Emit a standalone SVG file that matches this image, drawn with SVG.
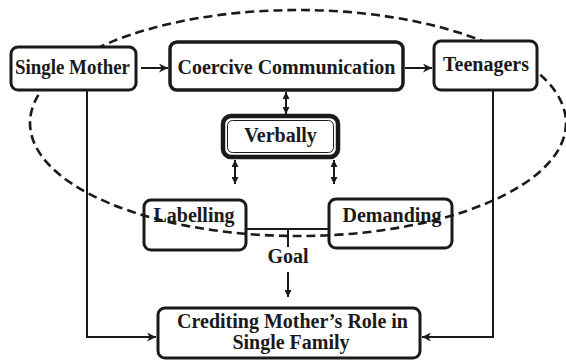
<svg xmlns="http://www.w3.org/2000/svg" width="566" height="360" viewBox="0 0 566 360">
<style>
.box{fill:#fff;stroke:#1a1a1a;stroke-width:3}
.t{font-family:"Liberation Serif","Times New Roman",serif;font-weight:bold;font-size:20px;fill:#1a1a1a;text-anchor:middle}
.ln{fill:none;stroke:#1a1a1a;stroke-width:2}
.el{fill:none;stroke:#1a1a1a;stroke-width:2.6;stroke-dasharray:9 5}
</style>
<defs>
<marker id="ah" viewBox="0 0 10 10" refX="10" refY="5" markerWidth="9" markerHeight="9" markerUnits="userSpaceOnUse" orient="auto-start-reverse">
<path d="M0,0 L10,5 L0,10 L3,5 z" fill="#1a1a1a"/>
</marker>
<marker id="ahs" viewBox="0 0 10 10" refX="10" refY="5" markerWidth="7" markerHeight="7" markerUnits="userSpaceOnUse" orient="auto-start-reverse">
<path d="M0,0 L10,5 L0,10 z" fill="#1a1a1a"/>
</marker>
</defs>
<g id="labelling"><rect class="box" x="144" y="200" width="102" height="50" rx="7"/><text class="t" x="194" y="222">Labelling</text></g>
<g id="demanding"><rect class="box" x="329" y="199" width="123" height="49" rx="7"/><text class="t" x="392" y="222">Demanding</text></g>
<g id="connectors">
<path class="ln" d="M247,229 H328"/>
<path class="ln" d="M288,229 V247"/>
<path class="ln" d="M288,272 V297" marker-end="url(#ahs)"/>
<path class="ln" d="M141,68 H168" marker-end="url(#ah)"/>
<path class="ln" d="M405,68 H432" marker-end="url(#ah)"/>
<path class="ln" d="M286,92 V114" marker-start="url(#ahs)" marker-end="url(#ahs)"/>
<path class="ln" d="M235,160 V184" marker-start="url(#ahs)" marker-end="url(#ahs)"/>
<path class="ln" d="M334,160 V184" marker-start="url(#ahs)" marker-end="url(#ahs)"/>
<path class="ln" d="M87,91 V337 H156" marker-end="url(#ah)"/>
<path class="ln" d="M493,91 V337 H422" marker-end="url(#ah)"/>
</g>
<ellipse class="el" cx="298" cy="123" rx="268" ry="113"/>
<g id="single-mother"><rect class="box" x="11" y="47" width="125" height="43" rx="7"/><text class="t" x="72.5" y="74" textLength="115" lengthAdjust="spacingAndGlyphs">Single Mother</text></g>
<g id="coercive"><rect class="box" x="170" y="42" width="233" height="48" rx="7" style="stroke-width:3.5"/><text class="t" x="286.5" y="74">Coercive Communication</text></g>
<g id="teenagers"><rect class="box" x="434" y="41" width="103" height="49" rx="7"/><text class="t" x="486" y="71">Teenagers</text></g>
<g id="verbally"><rect class="box" x="223" y="116" width="115" height="41" rx="8" style="stroke-width:4.5"/><rect x="227.5" y="120.5" width="106" height="32" rx="5" fill="none" stroke="#1a1a1a" stroke-width="1"/><text class="t" x="280.5" y="142">Verbally</text></g>
<g id="goal"><text class="t" x="288" y="263">Goal</text></g>
<g id="crediting"><rect class="box" x="158" y="308" width="262" height="50" rx="7"/><text class="t" x="292.5" y="328">Crediting Mother’s Role in</text><text class="t" x="291" y="349">Single Family</text></g>
</svg>
